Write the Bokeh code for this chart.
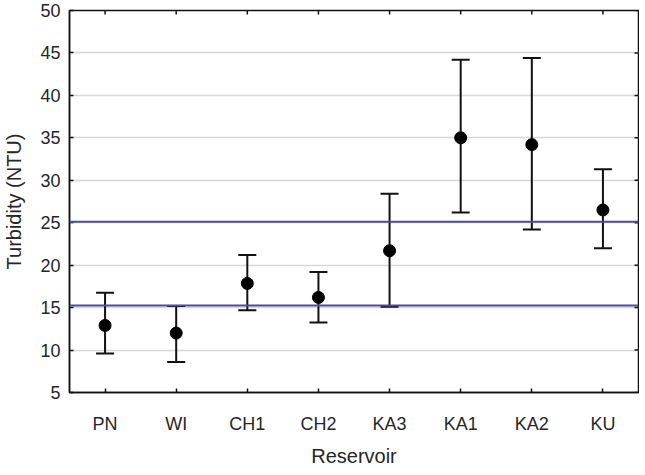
from bokeh.plotting import figure
from bokeh.models import ColumnDataSource, Whisker, TeeHead, Span, FixedTicker, Range1d, FactorRange
from bokeh.transform import dodge
from bokeh.embed import file_html
from bokeh.resources import INLINE

reservoirs = ["PN", "WI", "CH1", "CH2", "KA3", "KA1", "KA2", "KU"]
mean_ntu = [12.9, 12.0, 17.85, 16.2, 21.7, 35.0, 34.2, 26.5]
lower_ntu = [9.6, 8.6, 14.7, 13.25, 15.1, 26.2, 24.2, 22.0]
upper_ntu = [16.75, 15.2, 21.2, 19.2, 28.4, 44.2, 44.4, 31.3]
limit_lines = [25.1, 15.25]
y_ticks = [5, 10, 15, 20, 25, 30, 35, 40, 45, 50]

src = ColumnDataSource(dict(x=reservoirs, m=mean_ntu, lo=lower_ntu, hi=upper_ntu))

FONT = "Liberation Sans"
TXT = "#262626"
DARK = "#111111"

p = figure(frame_width=569, frame_height=382, x_range=FactorRange(*reservoirs), y_range=Range1d(5, 50),
           output_backend="svg", toolbar_location=None,
           min_border_left=67, min_border_right=1, min_border_top=10, min_border_bottom=0)
p.background_fill_color = "white"
p.border_fill_color = "white"
p.outline_line_color = DARK
p.outline_line_width = 1.5

p.xgrid.grid_line_color = None
p.ygrid.grid_line_color = "#d8d8d8"
p.ygrid.grid_line_width = 1.5
p.yaxis.ticker = FixedTicker(ticks=y_ticks)

for ax in [p.xaxis[0], p.yaxis[0]]:
    ax.axis_line_color = DARK
    ax.axis_line_width = 1.5
    ax.major_tick_in = 4
    ax.major_tick_out = 0
    ax.minor_tick_line_color = None
    ax.major_tick_line_color = DARK
    ax.major_tick_line_width = 1.5
    ax.major_label_text_font = FONT
    ax.major_label_text_font_size = "18px"
    ax.major_label_text_color = TXT
    ax.axis_label_text_font = FONT
    ax.axis_label_text_font_size = "20px"
    ax.axis_label_text_font_style = "normal"
    ax.axis_label_text_color = TXT

p.xaxis.axis_label = "Reservoir"
p.yaxis.axis_label = "Turbidity (NTU)"
p.xaxis.major_label_standoff = 21
p.xaxis.axis_label_standoff = 8
p.yaxis.major_label_standoff = 9
p.yaxis.axis_label_standoff = 12

# inward ticks on the top and right edges of the frame
top_src = ColumnDataSource(dict(x=reservoirs, y=[y_ticks[-1]] * len(reservoirs)))
p.scatter("x", "y", source=top_src, marker="dash", angle=1.5708, size=8,
          line_color=DARK, line_width=1.5)
right_src = ColumnDataSource(dict(x=[reservoirs[-1]] * len(y_ticks), y=y_ticks))
p.scatter(dodge("x", 0.5, range=p.x_range), "y", source=right_src, marker="dash", size=8,
          line_color=DARK, line_width=1.5)

for v in limit_lines:
    p.add_layout(Span(location=v, dimension="width", line_color="#4b4ba6", line_width=2))

w = Whisker(base="x", lower="lo", upper="hi", source=src, line_color=DARK, line_width=2,
            upper_head=TeeHead(size=18, line_color=DARK, line_width=2),
            lower_head=TeeHead(size=18, line_color=DARK, line_width=2))
p.add_layout(w)
p.scatter("x", "m", source=src, size=12, color="black")

open("out.html", "w").write(file_html(p, INLINE))
